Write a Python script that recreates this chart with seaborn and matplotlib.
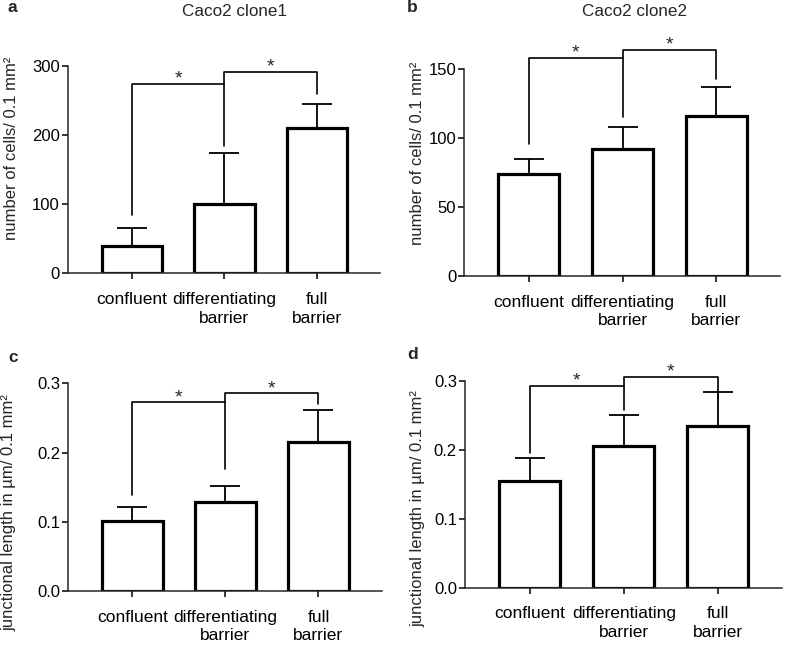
import matplotlib
matplotlib.use("Agg")
import matplotlib.pyplot as plt
import seaborn as sns
import numpy as np

# data
categories = ["confluent", "differentiating\nbarrier", "full\nbarrier"]

a_means = [40, 101, 210]
a_sd = [25, 74, 36]
b_means = [74, 92, 116]
b_sd = [10.5, 16, 21]
c_means = [0.101, 0.129, 0.215]
c_sd = [0.021, 0.022, 0.046]
d_means = [0.155, 0.205, 0.234]
d_sd = [0.033, 0.045, 0.050]

# significance brackets: (bar height, left leg end, right leg end)
a_brackets = [(275, 85, 185), (292, 275, 260)]
b_brackets = [(158, 96, 115), (164, 158, 143)]
c_brackets = [(0.273, 0.138, 0.176), (0.286, 0.273, 0.270)]
d_brackets = [(0.293, 0.195, 0.258), (0.306, 0.293, 0.275)]

yticks_cells_1 = [0, 100, 200, 300]
yticks_cells_2 = [0, 50, 100, 150]
yticks_junc = [0.0, 0.1, 0.2, 0.3]

sns.set_style("ticks")
plt.rcParams["font.family"] = ["Liberation Sans", "DejaVu Sans"]
plt.rcParams["axes.linewidth"] = 1.1

W, H = 787, 647
fig = plt.figure(figsize=(W / 100, H / 100), dpi=100)

panels = [
    dict(letter="a", pos=(68, 66.3, 380, 273.3), means=a_means, sd=a_sd,
         br=a_brackets, ticks=yticks_cells_1, fmt="{:.0f}",
         ylabel="number of cells/ 0.1 mm\u00b2", ylab=(12, 148.5),
         title="Caco2 clone1", title_xy=(235, 11), letter_xy=(12, 8)),
    dict(letter="b", pos=(464.3, 69, 780, 276), means=b_means, sd=b_sd,
         br=b_brackets, ticks=yticks_cells_2, fmt="{:.0f}",
         ylabel="number of cells/ 0.1 mm\u00b2", ylab=(417, 153),
         title="Caco2 clone2", title_xy=(634.5, 11), letter_xy=(412, 8)),
    dict(letter="c", pos=(68.3, 383.3, 381.7, 591), means=c_means, sd=c_sd,
         br=c_brackets, ticks=yticks_junc, fmt="{:.1f}",
         ylabel="junctional length in \u00b5m/ 0.1 mm\u00b2", ylab=(9, 513),
         title=None, title_xy=None, letter_xy=(13, 358)),
    dict(letter="d", pos=(465, 381, 781.7, 587.7), means=d_means, sd=d_sd,
         br=d_brackets, ticks=yticks_junc, fmt="{:.1f}",
         ylabel="junctional length in \u00b5m/ 0.1 mm\u00b2", ylab=(417.5, 509),
         title=None, title_xy=None, letter_xy=(413, 354)),
]

for p in panels:
    x0, y0, x1, y1 = p["pos"]
    ax = fig.add_axes([x0 / W, 1 - y1 / H, (x1 - x0) / W, (y1 - y0) / H])

    sns.barplot(x=categories, y=p["means"], ax=ax, color="white",
                edgecolor="black", linewidth=2.3, width=0.65,
                saturation=1, errorbar=None)
    xs = np.arange(len(categories))
    ax.errorbar(xs, p["means"], yerr=[np.zeros(len(xs)), p["sd"]], fmt="none",
                ecolor="black", elinewidth=1.3, capsize=11, capthick=1.3,
                zorder=1)

    # significance brackets
    (h1, l1, r1), (h2, l2, r2) = p["br"]
    ax.plot([0, 0, 1, 1], [l1, h1, h1, r1], color="black", lw=1.2,
            clip_on=False)
    ax.plot([1, 1, 2, 2], [l2, h2, h2, r2], color="black", lw=1.2,
            clip_on=False)
    for xm, h in [(0.5, h1), (1.5, h2)]:
        ax.annotate("*", xy=(xm, h), xytext=(0, 0), textcoords="offset points",
                    ha="center", va="baseline", fontsize=14,
                    annotation_clip=False)

    ax.set_xlim(-0.69, 2.68)
    ax.set_ylim(p["ticks"][0], p["ticks"][-1])
    ax.set_yticks(p["ticks"])
    ax.set_yticklabels([p["fmt"].format(t) for t in p["ticks"]])
    sns.despine(ax=ax)
    ax.tick_params(axis="both", direction="out", length=4.5, width=1.1,
                   color="black", labelcolor="black")
    ax.tick_params(axis="x", pad=9, labelsize=12.5)
    ax.tick_params(axis="y", pad=1.3, labelsize=12)
    for t in ax.get_xticklabels():
        t.set_linespacing(1.3)

    ax.set_ylabel(p["ylabel"], fontsize=12)
    ax.yaxis.label.set(ha="center", va="center", rotation_mode="default")
    lx, ly = p["ylab"]
    ax.yaxis.set_label_coords((lx - x0) / (x1 - x0), (y1 - ly) / (y1 - y0))

    if p["title"]:
        tx, ty = p["title_xy"]
        ax.set_title(p["title"], x=(tx - x0) / (x1 - x0),
                     y=(y1 - ty) / (y1 - y0), pad=0, va="center", fontsize=12.3)

    lx, ly = p["letter_xy"]
    fig.text(lx / W, 1 - ly / H, p["letter"], ha="center", va="center",
             fontsize=12.5, fontweight="bold")

fig.savefig("out.png", dpi=100)
